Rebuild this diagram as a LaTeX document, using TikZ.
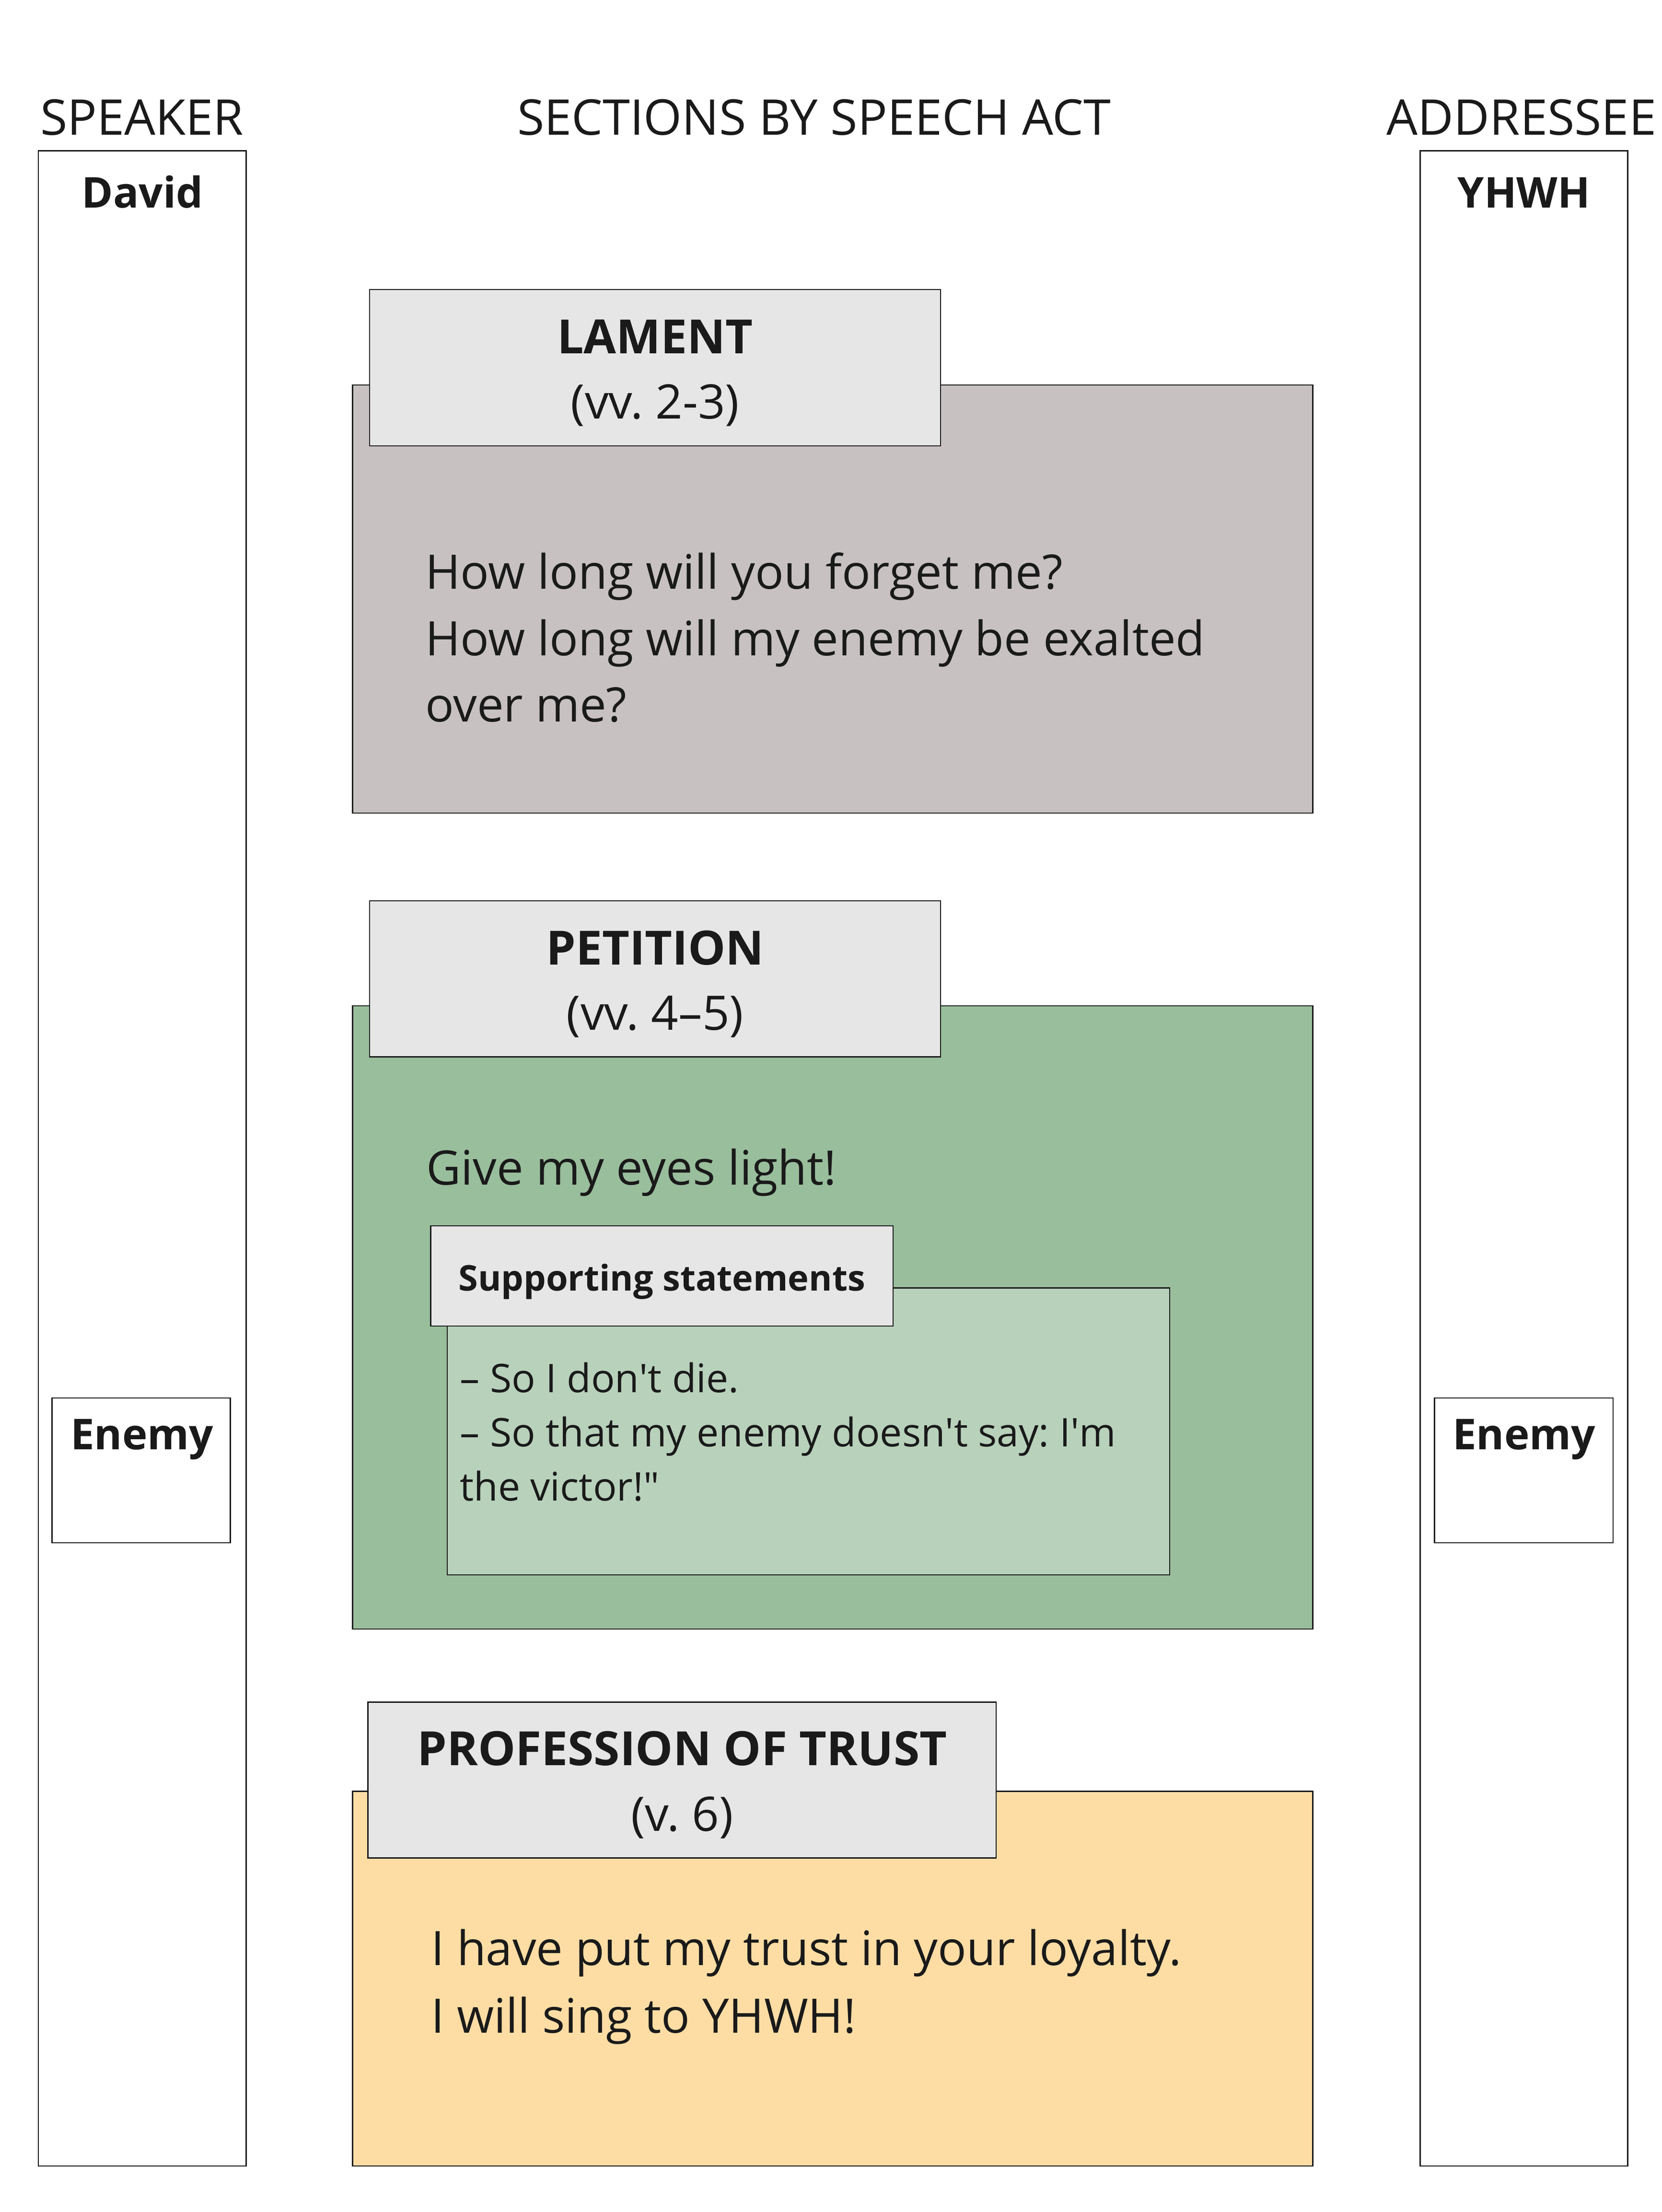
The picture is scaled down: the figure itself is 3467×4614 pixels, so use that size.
\documentclass[tikz,border=0pt]{standalone}
\usepackage{fontspec}
\setmainfont{Open Sans}
\usetikzlibrary{fit}
\definecolor{linec}{HTML}{1A1A1A}
\definecolor{hdrfill}{HTML}{E6E6E6}
\definecolor{lamfill}{HTML}{C7C1C1}
\definecolor{petfill}{HTML}{99BE9C}
\definecolor{supfill}{HTML}{B8D1BB}
\definecolor{trufill}{HTML}{FDDDA4}
\newcommand\ftop{\fontsize{29.2}{36}\selectfont}
\newcommand\fcolb{\fontsize{25.2}{32}\selectfont\bfseries}
\newcommand\fbody{\fontsize{28.2}{36}\selectfont}
\newcommand\fsecb{\fontsize{28}{36}\selectfont\bfseries}
\newcommand\fsupb{\fontsize{21}{28}\selectfont\bfseries}
\newcommand\fsup{\fontsize{23.4}{30}\selectfont}
\newcommand\sq{\textquotesingle}
\tikzset{
  box/.style={draw=linec, line width=0.8pt, inner sep=0pt},
  hdrbox/.style={box, fill=hdrfill},
  txt/.style={inner sep=0pt, text=linec},
}
\begin{document}
\frenchspacing
\begin{tikzpicture}[x=0.01cm, y=-0.01cm]
\useasboundingbox (0,0) rectangle (3467,4614);
\fill[white] (0,0) rectangle (3467,4614);

% column titles
\node[txt, anchor=base, font=\ftop] (tspk) at (296,281.6) {SPEAKER};
\node[txt, anchor=base, font=\ftop] (tsec) at (1698,281.6) {SECTIONS BY SPEECH ACT};
\node[txt, anchor=base, font=\ftop] (tadr) at (3174,281.6) {ADDRESSEE};

% speaker / addressee columns
\node[box, fit={(80,314.5)(513.5,4518)}] (spkcol) {};
\node[box, fit={(2962.6,314.5)(3395.8,4518)}] (adrcol) {};
\node[txt, anchor=base, font=\fcolb] (david) at (297,433) {David};
\node[txt, anchor=base, font=\fcolb] (yhwh) at (3179,433) {YHWH};

% enemy boxes
\node[box, fit={(108.7,2916)(480.6,3218)}] (enemyL) {};
\node[txt, anchor=base, font=\fcolb] (enemyLt) at (296,3023) {Enemy};
\node[box, fit={(2992.5,2916)(3365,3218)}] (enemyR) {};
\node[txt, anchor=base, font=\fcolb] (enemyRt) at (3179,3023) {Enemy};

% LAMENT
\node[box, fill=lamfill, fit={(735.5,803)(2738.5,1696)}] (lament) {};
\node[hdrbox, fit={(771,604)(1962,930)}] (lamhdr) {};
\node[txt, anchor=base, font=\fsecb] (lamt1) at (1366.5,737) {LAMENT};
\node[txt, anchor=base, font=\fbody] (lamt2) at (1366.5,873) {(vv. 2-3)};
\node[txt, anchor=base west, font=\fbody] (lamb1) at (887,1228) {How long will you forget me?};
\node[txt, anchor=base west, font=\fbody] (lamb2) at (887,1367) {How long will my enemy be exalted};
\node[txt, anchor=base west, font=\fbody] (lamb3) at (887,1505) {over me?};

% PETITION
\node[box, fill=petfill, fit={(735.5,2098)(2738.5,3398)}] (petition) {};
\node[hdrbox, fit={(771,1879)(1962,2204.6)}] (pethdr) {};
\node[txt, anchor=base, font=\fsecb] (pett1) at (1366.5,2012) {PETITION};
\node[txt, anchor=base, font=\fbody] (pett2) at (1366.5,2148) {(vv. 4–5)};
\node[txt, anchor=base west, font=\fbody] (petb1) at (889,2471) {Give my eyes light!};

% supporting statements
\node[box, fill=supfill, fit={(933,2686.5)(2440,3285)}] (support) {};
\node[hdrbox, fit={(898.5,2557)(1863,2766)}] (suphdr) {};
\node[txt, anchor=base, font=\fsupb] (supt) at (1380.7,2692) {Supporting statements};
\node[txt, anchor=base west, font=\fsup] (supb1) at (959,2904) {– So I don\sq t die.};
\node[txt, anchor=base west, font=\fsup] (supb2) at (959,3017) {– So that my enemy doesn\sq t say: I\sq m};
\node[txt, anchor=base west, font=\fsup] (supb3) at (959,3130) {the victor!\textquotedbl};

% PROFESSION OF TRUST
\node[box, fill=trufill, fit={(735.5,3736.5)(2738.5,4518)}] (trust) {};
\node[hdrbox, fit={(767.6,3550.5)(2078,3875.5)}] (truhdr) {};
\node[txt, anchor=base, font=\fsecb] (trut1) at (1422.8,3682.5) {PROFESSION OF TRUST};
\node[txt, anchor=base, font=\fbody] (trut2) at (1422.8,3819.5) {(v. 6)};
\node[txt, anchor=base west, font=\fbody] (trub1) at (899,4099) {I have put my trust in your loyalty.};
\node[txt, anchor=base west, font=\fbody] (trub2) at (899,4240.5) {I will sing to YHWH!};
\end{tikzpicture}
\end{document}
